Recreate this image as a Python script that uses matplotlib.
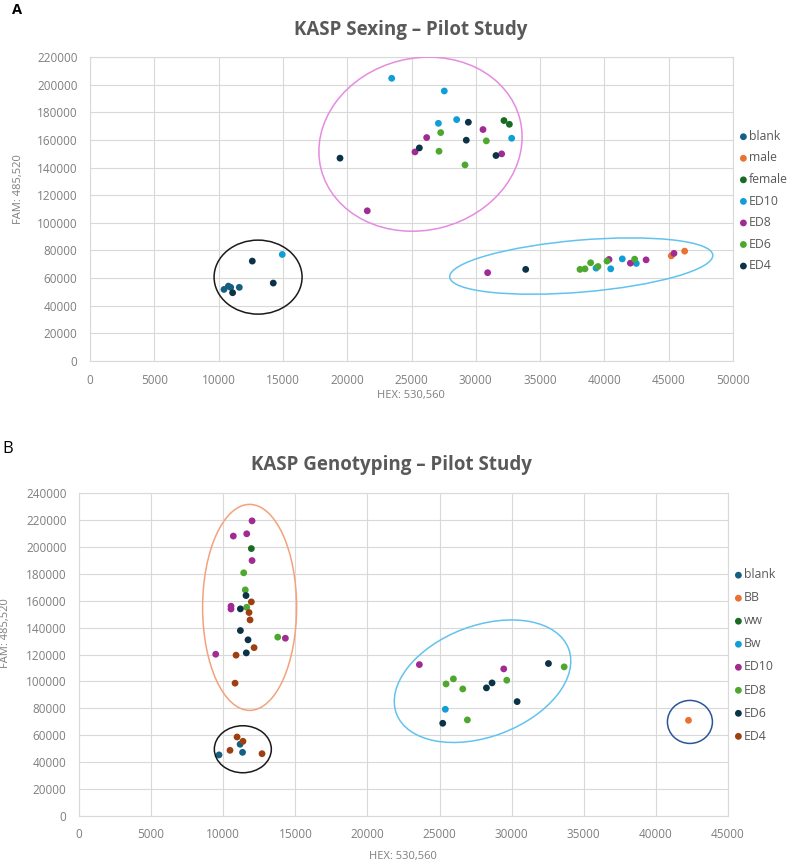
import numpy as np
import matplotlib.pyplot as plt
from matplotlib.patches import Ellipse
from matplotlib import transforms

plt.rcParams['font.family'] = ['Open Sans', 'DejaVu Sans']

# ---- panel A: KASP sexing ----
a_series = ['blank', 'male', 'female', 'ED10', 'ED8', 'ED6', 'ED4']
a_colors = ['#156082', '#E97132', '#196B24', '#0F9ED5', '#A02B93', '#4EA72E', '#0C3247']

a_blank_x = [10420, 10760, 10940, 11610]
a_blank_y = [51800, 54200, 53300, 53300]
a_male_x = [45200, 46240]
a_male_y = [76100, 79500]
a_female_x = [32190, 32610]
a_female_y = [174000, 171300]
a_ed10_x = [23460, 27550, 27090, 28510, 32790, 14950, 39350, 40490, 41390, 42480]
a_ed10_y = [204600, 195400, 172000, 174700, 161200, 77100, 67200, 66700, 73900, 70600]
a_ed8_x = [21560, 26180, 25270, 30560, 32010, 30920, 40360, 42020, 43240, 45410]
a_ed8_y = [108700, 161700, 151300, 167500, 149900, 63900, 73500, 70800, 73200, 77900]
a_ed6_x = [27270, 27140, 30820, 29160, 38100, 38490, 38930, 39500, 40200, 42350]
a_ed6_y = [165300, 151800, 159300, 141900, 66300, 66700, 71100, 68400, 72300, 73700]
a_ed4_x = [19440, 29420, 29260, 25610, 31570, 33880, 12620, 14250, 11090]
a_ed4_y = [146800, 172800, 159800, 154200, 148700, 66300, 72300, 56400, 49400]

a_x = [a_blank_x, a_male_x, a_female_x, a_ed10_x, a_ed8_x, a_ed6_x, a_ed4_x]
a_y = [a_blank_y, a_male_y, a_female_y, a_ed10_y, a_ed8_y, a_ed6_y, a_ed4_y]

# ---- panel B: KASP genotyping ----
b_series = ['blank', 'BB', 'ww', 'Bw', 'ED10', 'ED8', 'ED6', 'ED4']
b_colors = ['#156082', '#E97132', '#196B24', '#0F9ED5', '#A02B93', '#4EA72E', '#0C3247', '#9E3F12']

b_blank_x = [9710, 11170, 11340]
b_blank_y = [45400, 53300, 47300]
b_bb_x = [42260]
b_bb_y = [71100]
b_ww_x = [11950]
b_ww_y = [198700]
b_bw_x = [25400]
b_bw_y = [79300]
b_ed10_x = [12000, 10700, 11630, 12000, 10540, 10540, 14310, 9480, 23600, 29450]
b_ed10_y = [219300, 208000, 209700, 189800, 155900, 153800, 132100, 120200, 112500, 109300]
b_ed8_x = [11420, 11530, 11630, 13780, 25450, 25960, 26610, 29660, 26930, 33640]
b_ed8_y = [180700, 168000, 155100, 132900, 98100, 101900, 94400, 100900, 71400, 110800]
b_ed6_x = [11580, 11190, 11190, 11720, 11600, 32550, 28250, 28640, 30380, 25220]
b_ed6_y = [163800, 153900, 137800, 130900, 121200, 113300, 95200, 98900, 85000, 68900]
b_ed4_x = [11950, 11790, 11860, 12140, 10890, 10820, 10470, 10960, 11370, 12690]
b_ed4_y = [159100, 151200, 145700, 125100, 119500, 98700, 48800, 58700, 55500, 46300]

b_x = [b_blank_x, b_bb_x, b_ww_x, b_bw_x, b_ed10_x, b_ed8_x, b_ed6_x, b_ed4_x]
b_y = [b_blank_y, b_bb_y, b_ww_y, b_bw_y, b_ed10_y, b_ed8_y, b_ed6_y, b_ed4_y]

# cluster rings: data centre, width/height in pixels, angle, colour
a_rings = [((13070, 60700), 88, 74, 0, '#1a1a1a'),
           ((25700, 156900), 205, 172, 13.9, '#E58BE0'),
           ((38200, 68700), 264, 52, 4.8, '#62C3EF')]
b_rings = [((11830, 155000), 94, 206, 0, '#F4A27C'),
           ((11360, 49600), 57, 47, 0, '#1a1a1a'),
           ((27980, 100150), 184, 111, 20.7, '#62C3EF'),
           ((42360, 69900), 45, 43, 0, '#2A5597')]

grey = '#595959'
fig = plt.figure(figsize=(7.88, 8.64), dpi=100)


def draw_panel(ax, xs, ys, names, colors, rings, xmax, ymax, ystep, leg_y, spacing):
    for x, y, n, c in zip(xs, ys, names, colors):
        ax.scatter(x, y, s=24, color=c, edgecolors='none', label=n, zorder=3)
    for (cx, cy), w, h, ang, col in rings:
        tr = fig.dpi_scale_trans + transforms.ScaledTranslation(cx, cy, ax.transData)
        ax.add_patch(Ellipse((0, 0), w / 100, h / 100, angle=ang, transform=tr,
                             fill=False, edgecolor=col, lw=1.1, zorder=4))
    ax.set_xlim(0, xmax)
    ax.set_ylim(0, ymax)
    ax.set_xticks(np.arange(0, xmax + 1, 5000))
    ax.set_yticks(np.arange(0, ymax + 1, ystep))
    ax.grid(True, color='#D9D9D9', lw=0.8)
    ax.set_axisbelow(True)
    for s in ax.spines.values():
        s.set_color('#D9D9D9')
        s.set_linewidth(0.8)
    ax.tick_params(length=0, pad=9, labelsize=8.5, labelcolor='#7F7F7F')
    leg = ax.legend(loc='center left', bbox_to_anchor=(1.0, leg_y), frameon=False,
                    handletextpad=0.15, handlelength=0.6, labelspacing=spacing,
                    fontsize=8.8, borderaxespad=0.15, labelcolor=grey)
    return leg


ax_a = fig.add_axes([90 / 788, 1 - 361 / 864, 643 / 788, 304 / 864])
draw_panel(ax_a, a_x, a_y, a_series, a_colors, a_rings, 50000, 220000, 20000, 0.526, 0.7)
ax_b = fig.add_axes([79 / 788, 1 - 816 / 864, 649 / 788, 323 / 864])
draw_panel(ax_b, b_x, b_y, b_series, b_colors, b_rings, 45000, 240000, 20000, 0.497, 0.82)

fig.text(411 / 788, 1 - 30 / 864, 'KASP Sexing \u2013 Pilot Study', ha='center', va='center',
         fontsize=13.5, fontweight='bold', color=grey)
fig.text(391 / 788, 1 - 465 / 864, 'KASP Genotyping \u2013 Pilot Study', ha='center', va='center',
         fontsize=13.5, fontweight='bold', color=grey)
fig.text(17 / 788, 1 - 10 / 864, 'A', ha='center', va='center', fontsize=10.5, fontweight='bold')
fig.text(8 / 788, 1 - 449 / 864, 'B', ha='center', va='center', fontsize=12)

fig.text(411 / 788, 1 - 396 / 864, 'HEX: 530,560', ha='center', va='center', fontsize=8, color='#7F7F7F')
fig.text(403 / 788, 1 - 857 / 864, 'HEX: 530,560', ha='center', va='center', fontsize=8, color='#7F7F7F')
fig.text(19 / 788, 1 - 189 / 864, 'FAM: 485,520', ha='center', va='center', rotation=90,
         fontsize=8, color='#7F7F7F')
fig.text(6 / 788, 1 - 633 / 864, 'FAM: 485,520', ha='center', va='center', rotation=90,
         fontsize=8, color='#7F7F7F')

fig.savefig('out.png', dpi=100)
